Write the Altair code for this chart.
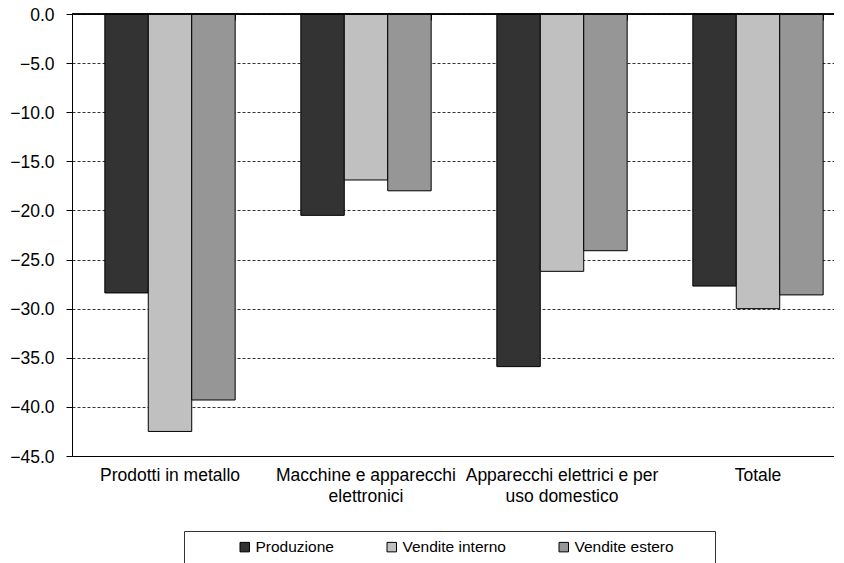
import json
import altair as alt
import pandas as pd

# ---- data ----
categories = [
    "Prodotti in metallo",
    "Macchine e apparecchi elettronici",
    "Apparecchi elettrici e per uso domestico",
    "Totale",
]
category_label_lines = [
    ["Prodotti in metallo"],
    ["Macchine e apparecchi", "elettronici"],
    ["Apparecchi elettrici e per", "uso domestico"],
    ["Totale"],
]
series = ["Produzione", "Vendite interno", "Vendite estero"]
produzione = [-28.4, -20.5, -35.9, -27.7]
vendite_interno = [-42.5, -16.9, -26.2, -30.0]
vendite_estero = [-39.3, -18.0, -24.1, -28.6]
series_colors = ["#333333", "#c0c0c0", "#969696"]
y_tick_values = [0, -5, -10, -15, -20, -25, -30, -35, -40, -45]

rows = []
for i, cat in enumerate(categories):
    for name, vals in zip(series, [produzione, vendite_interno, vendite_estero]):
        rows.append({"categoria": cat, "serie": name, "valore": vals[i]})
df = pd.DataFrame(rows)
cat_df = pd.DataFrame({"categoria": categories})

FONT = "Liberation Sans"

parts = [
    f"datum.label === {json.dumps(c)} ? {json.dumps(l)}"
    for c, l in zip(categories, category_label_lines)
]
label_expr = " : ".join(parts) + " : datum.label"

x_scale = alt.Scale(paddingInner=0.335, paddingOuter=0.1675)

bars = alt.Chart(df).mark_bar(stroke="black", strokeWidth=1).encode(
    x=alt.X(
        "categoria:N",
        sort=categories,
        scale=x_scale,
        axis=alt.Axis(
            orient="bottom",
            title=None,
            labelAngle=0,
            ticks=False,
            domainColor="black",
            domainWidth=1,
            labelFont=FONT,
            labelFontSize=17.5,
            labelColor="black",
            labelPadding=10,
            labelLineHeight=21,
            labelExpr=label_expr,
            labelLimit=400,
            labelOverlap=False,
            labelBound=False,
        ),
    ),
    xOffset=alt.XOffset(
        "serie:N", sort=series, scale=alt.Scale(paddingInner=0, paddingOuter=0)
    ),
    y=alt.Y(
        "valore:Q",
        scale=alt.Scale(domain=[-45, 0], nice=False, zero=False),
        axis=alt.Axis(
            title=None,
            values=y_tick_values,
            format=".1f",
            labelFont=FONT,
            labelFontSize=17.5,
            labelColor="black",
            labelPadding=12,
            labelOffset=1,
            tickSize=6,
            tickColor="black",
            domainColor="black",
            grid=True,
            gridColor="#333333",
            gridDash=[3, 2],
            gridWidth=1,
        ),
    ),
    color=alt.Color(
        "serie:N",
        sort=series,
        scale=alt.Scale(domain=series, range=series_colors),
        legend=alt.Legend(
            orient="none",
            legendX=112,
            legendY=517,
            direction="horizontal",
            title="\u00a0",
            titleOrient="right",
            titlePadding=33,
            titleFontSize=10,
            strokeColor="#333333",
            fillColor="white",
            padding=8,
            symbolType="square",
            symbolSize=90,
            symbolStrokeColor="black",
            symbolStrokeWidth=1,
            symbolOffset=45,
            labelFont=FONT,
            labelFontSize=15.5,
            labelColor="black",
            labelOffset=3,
            columnPadding=5,
        ),
    ),
)

top_axis = alt.Chart(cat_df).mark_point(opacity=0).encode(
    x=alt.X(
        "categoria:N",
        sort=categories,
        axis=alt.Axis(
            orient="top",
            title=None,
            labels=False,
            domain=False,
            ticks=True,
            tickBand="extent",
            tickSize=6,
            tickColor="black",
            offset=-6,
            grid=False,
        ),
    ),
    y=alt.datum(0),
)

zero_line = alt.Chart(cat_df).mark_rule(color="black", strokeWidth=1).encode(
    y=alt.datum(0)
)

chart = (
    alt.layer(bars, top_axis, zero_line)
    .resolve_axis(x="independent")
    .properties(
        width=784,
        height=442,
        autosize=alt.AutoSizeParams(type="none"),
        padding={"left": 64, "top": 6, "right": -22, "bottom": 107},
    )
    .configure_view(strokeWidth=0)
    .configure(background="white")
)

chart.save("out.html", embed_options={"renderer": "svg", "actions": False})
